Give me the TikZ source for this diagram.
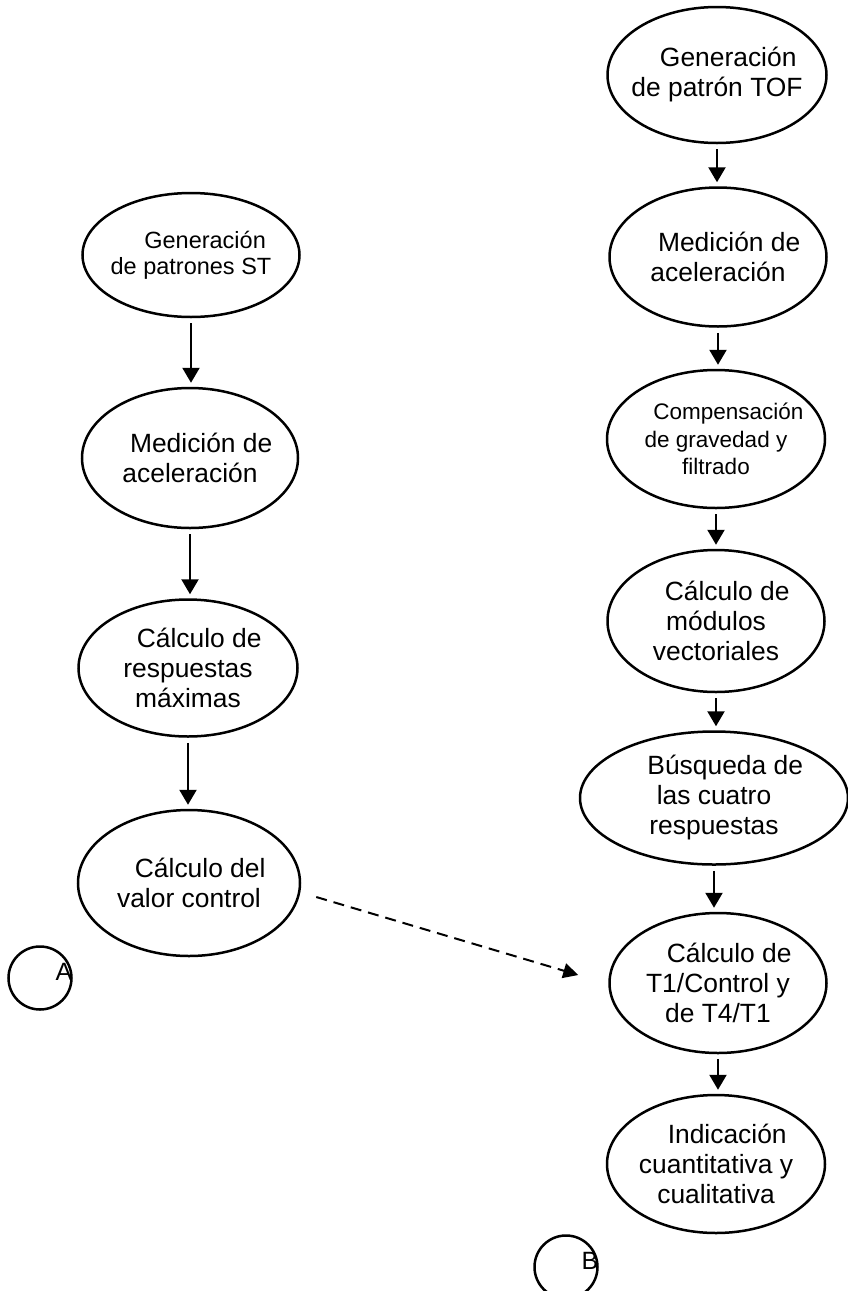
\documentclass[tikz,border=0pt]{standalone}
\usepackage{fontspec}
\setmainfont{Liberation Sans}
\usetikzlibrary{shapes.geometric,arrows.meta}

\tikzset{
  proc/.style={draw, ellipse, line width=2.5pt, inner sep=0pt},
  txt/.style={align=center, font=\fontsize{26.4}{30}\selectfont},
  flow/.style={-{Triangle[width=17pt,length=15pt]}, line width=2.3pt, shorten <=5pt, shorten >=4pt},
  conector/.style={draw, circle, line width=2.5pt, minimum size=63pt, inner sep=0pt},
  letra/.style={font=\fontsize{25}{30}\selectfont}
}
\newcommand{\ind}{\hspace*{0.85em}}

\begin{document}
\begin{tikzpicture}[x=1pt,y=-1pt]
    \useasboundingbox (0,0) rectangle (847,1291);

    % columna izquierda (patrones ST)
    \node[proc, minimum width=217pt, minimum height=124pt,
      label={[txt, font=\fontsize{23.5}{26}\selectfont]center:{\hspace*{1.2em}Generación\\de patrones ST}}] (st) at (191,255) {};
    \node[proc, minimum width=216pt, minimum height=140pt,
      label={[txt]center:{\ind Medición de\\aceleración}}] (medst) at (190,458) {};
    \node[proc, minimum width=219pt, minimum height=137pt,
      label={[txt]center:{\ind Cálculo de\\respuestas\\máximas}}] (resp) at (188,668) {};
    \node[proc, minimum width=222pt, minimum height=146pt,
      label={[txt]center:{\ind Cálculo del\\valor control}}] (ctrl) at (189,883) {};

    % columna derecha (patron TOF)
    \node[proc, minimum width=219pt, minimum height=136pt,
      label={[txt]center:{\ind Generación\\de patrón TOF}}] (tof) at (717,75) {};
    \node[proc, minimum width=217pt, minimum height=139pt,
      label={[txt]center:{\ind Medición de\\aceleración}}] (medtof) at (718,257) {};
    \node[proc, minimum width=218pt, minimum height=138pt,
      label={[txt, font=\fontsize{22.5}{27.5}\selectfont]center:{\hspace*{1.1em}Compensación\\de gravedad y\\filtrado}}] (comp) at (716,439) {};
    \node[proc, minimum width=217pt, minimum height=142pt,
      label={[txt]center:{\ind Cálculo de\\módulos\\vectoriales}}] (mod) at (716,621) {};
    \node[proc, minimum width=268pt, minimum height=133pt,
      label={[txt]center:{\ind Búsqueda de\\las cuatro\\respuestas}}] (busq) at (714,798) {};
    \node[proc, minimum width=217pt, minimum height=140pt,
      label={[txt]center:{\ind Cálculo de\\T1/Control y\\de T4/T1}}] (calc) at (718,983) {};
    \node[proc, minimum width=218pt, minimum height=138pt,
      label={[txt]center:{\ind Indicación\\cuantitativa y\\cualitativa}}] (ind) at (716,1164) {};

    % conectores de pagina
    \node[conector, label={[letra, xshift=24pt, yshift=6pt]center:A}] (A) at (40,978) {};
    \node[conector, label={[letra, xshift=24pt, yshift=6pt]center:B}] (B) at (566,1267) {};

    % flechas
    \draw[flow] (st.south) -- (st.south |- medst.north);
    \draw[flow] (medst.south) -- (medst.south |- resp.north);
    \draw[flow] (resp.south) -- (resp.south |- ctrl.north);

    \draw[flow] (tof.south) -- (tof.south |- medtof.north);
    \draw[flow] (medtof.south) -- (medtof.south |- comp.north);
    \draw[flow] (comp.south) -- (comp.south |- mod.north);
    \draw[flow] (mod.south) -- (mod.south |- busq.north);
    \draw[flow] (busq.south) -- (busq.south |- calc.north);
    \draw[flow] (calc.south) -- (calc.south |- ind.north);

    \coordinate (dini) at ([shift={(15pt,-14pt)}]ctrl.east);
    \coordinate (dfin) at ([shift={(-30pt,8pt)}]calc.west);
    \draw[-{Triangle[width=15pt,length=15pt]}, line width=2pt, dash pattern=on 11pt off 7pt] (dini) -- (dfin);
\end{tikzpicture}
\end{document}
